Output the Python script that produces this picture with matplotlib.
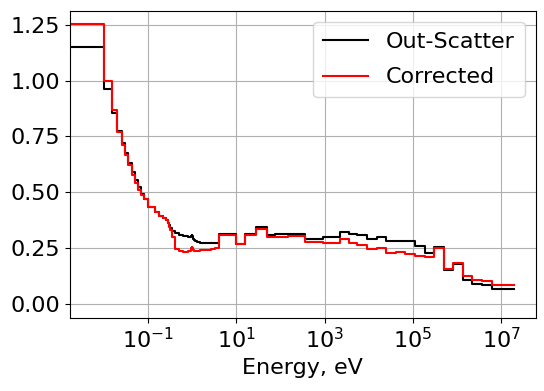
import numpy as np
import matplotlib
matplotlib.use("Agg")
import matplotlib.pyplot as plt
from matplotlib.ticker import NullLocator

# Energy group boundaries (eV), ascending (69 groups)
energy_edges = [1e-5, 0.005, 0.01, 0.015, 0.02, 0.025, 0.03, 0.035, 0.042, 0.05,
                0.058, 0.067, 0.08, 0.1, 0.14, 0.18, 0.22, 0.25, 0.28, 0.3,
                0.32, 0.35, 0.4, 0.5, 0.625, 0.78, 0.85, 0.91, 0.95, 0.972,
                0.996, 1.02, 1.045, 1.071, 1.097, 1.123, 1.15, 1.3, 1.5, 2.1,
                2.6, 3.3, 4.0, 9.877, 15.968, 27.7, 48.052, 75.5014, 148.728, 367.262,
                906.898, 1425.1, 2239.45, 3519.1, 5530.0, 9118.0, 1.503e4, 2.478e4, 4.085e4, 6.734e4,
                1.11e5, 1.83e5, 3.025e5, 5.0e5, 8.21e5, 1.353e6, 2.231e6, 3.679e6, 6.0655e6, 2.0e7]

out_scatter = [1.15, 1.15, 0.96, 0.853, 0.775, 0.72, 0.675, 0.63, 0.59,
               0.555, 0.523, 0.49, 0.467, 0.435, 0.41, 0.393, 0.383, 0.375, 0.363,
               0.353, 0.34, 0.327, 0.315, 0.307, 0.302, 0.298, 0.297, 0.30, 0.305,
               0.31, 0.305, 0.298, 0.292, 0.288, 0.285, 0.282, 0.279, 0.277, 0.273,
               0.27, 0.27, 0.27, 0.312, 0.268, 0.312, 0.342, 0.307, 0.311, 0.314,
               0.291, 0.297, 0.298, 0.323, 0.311, 0.31, 0.29, 0.30, 0.283, 0.283,
               0.28, 0.26, 0.226, 0.253, 0.149, 0.177, 0.107, 0.088, 0.082, 0.067]

corrected = [1.255, 1.255, 1.00, 0.866, 0.771, 0.71, 0.665, 0.62, 0.578,
             0.54, 0.51, 0.485, 0.467, 0.435, 0.41, 0.393, 0.383, 0.375, 0.363,
             0.345, 0.33, 0.30, 0.245, 0.235, 0.233, 0.235, 0.237, 0.242, 0.248,
             0.254, 0.25, 0.243, 0.239, 0.237, 0.236, 0.236, 0.236, 0.237, 0.24,
             0.242, 0.245, 0.25, 0.307, 0.268, 0.306, 0.337, 0.298, 0.30, 0.302,
             0.275, 0.272, 0.27, 0.288, 0.27, 0.265, 0.243, 0.248, 0.228, 0.232,
             0.222, 0.215, 0.208, 0.249, 0.154, 0.184, 0.126, 0.108, 0.102, 0.085]

plt.rcParams['font.family'] = ['DejaVu Sans']
fig = plt.figure(figsize=(5.44, 3.91), dpi=100)
ax = fig.add_axes([0.128, 0.1875, 0.8566, 0.785])

e = np.array(energy_edges)
ax.step(e, np.append(out_scatter, out_scatter[-1]), where='post', color='k', lw=1.5, label='Out-Scatter')
ax.step(e, np.append(corrected, corrected[-1]), where='post', color='r', lw=1.5, label='Corrected')

ax.set_xscale('log')
ax.set_xlim(10 ** -2.78, 10 ** 7.78)
ax.set_ylim(-0.0625, 1.3125)
ax.set_yticks([0.0, 0.25, 0.5, 0.75, 1.0, 1.25])
ax.set_xticks([1e-1, 1e1, 1e3, 1e5, 1e7])
ax.xaxis.set_minor_locator(NullLocator())
ax.tick_params(labelsize=16)
ax.set_xlabel('Energy, eV', fontsize=16)
ax.grid(True)
ax.legend(loc='upper right', fontsize=16, labelspacing=0.7, borderpad=0.45)

fig.savefig('out.png', dpi=100)
